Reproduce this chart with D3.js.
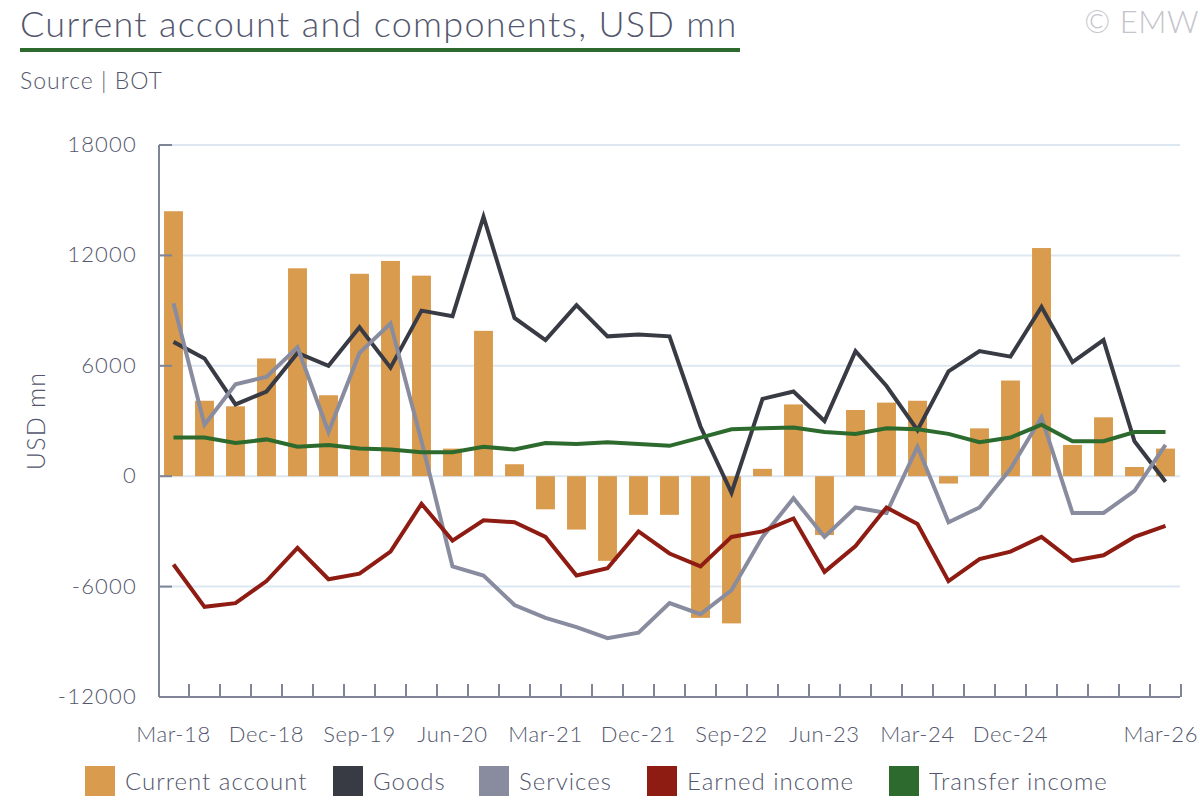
<!DOCTYPE html>
<html>
<head>
<meta charset="utf-8">
<script src="https://cdn.jsdelivr.net/npm/d3@7"></script>
<style>
    body { margin: 0; background: #fff; }
    text { font-family: Lato, "Open Sans", sans-serif; fill: #53576d; }
</style>
</head>
<body>
<div id="chart"></div>
<script>
'use strict'

////////////////////////////////////
/////////////// data ///////////////
////////////////////////////////////

const quarters = ['Mar-18','Jun-18','Sep-18','Dec-18','Mar-19','Jun-19','Sep-19','Dec-19',
    'Mar-20','Jun-20','Sep-20','Dec-20','Mar-21','Jun-21','Sep-21','Dec-21',
    'Mar-22','Jun-22','Sep-22','Dec-22','Mar-23','Jun-23','Sep-23','Dec-23',
    'Mar-24','Jun-24','Sep-24','Dec-24','Mar-25','Jun-25','Sep-25','Dec-25','Mar-26']

const tickLabels = ['Mar-18','Dec-18','Sep-19','Jun-20','Mar-21','Dec-21','Sep-22','Jun-23','Mar-24','Dec-24','Mar-26']

const yTicks = [-12000, -6000, 0, 6000, 12000, 18000]

const currentAccount = [14400, 4100, 3800, 6400, 11300, 4400, 11000, 11700, 10900, 1500, 7900, 650,
    -1800, -2900, -4600, -2100, -2100, -7700, -8000, 400, 3900, -3200, 3600, 4000,
    4100, -400, 2600, 5200, 12400, 1700, 3200, 500, 1500]

const goods = [7300, 6400, 3900, 4600, 6700, 6000, 8100, 5900, 9000, 8700, 14100, 8600,
    7400, 9300, 7600, 7700, 7600, 2700, -900, 4200, 4600, 3000, 6800, 4900,
    2500, 5700, 6800, 6500, 9200, 6200, 7400, 1900, -300]

const services = [9400, 2800, 5000, 5400, 7000, 2400, 6700, 8300, 1900, -4900, -5400, -7000,
    -7700, -8200, -8800, -8500, -6900, -7500, -6200, -3300, -1200, -3300, -1700, -2000,
    1600, -2500, -1700, 400, 3200, -2000, -2000, -800, 1700]

const earnedIncome = [-4800, -7100, -6900, -5700, -3900, -5600, -5300, -4100, -1500, -3500, -2400, -2500,
    -3300, -5400, -5000, -3000, -4200, -4900, -3300, -3000, -2300, -5200, -3800, -1700,
    -2600, -5700, -4500, -4100, -3300, -4600, -4300, -3300, -2700]

const transferIncome = [2100, 2100, 1800, 2000, 1600, 1700, 1500, 1450, 1300, 1300, 1600, 1450,
    1800, 1750, 1850, 1750, 1650, 2100, 2550, 2600, 2650, 2400, 2300, 2600,
    2550, 2300, 1850, 2100, 2800, 1900, 1900, 2400, 2400]

const lineSeries = [
    {name: 'Goods', values: goods, color: '#393b44'},
    {name: 'Services', values: services, color: '#898c9e'},
    {name: 'Earned income', values: earnedIncome, color: '#8e1c12'},
    {name: 'Transfer income', values: transferIncome, color: '#2d6a2d'}
]

////////////////////////////////////
//////////// svg setup /////////////
////////////////////////////////////

const svgWidth = 1200
const svgHeight = 800

const plot = { left: 159, right: 1180, top: 145, bottom: 697 }

const svg = d3.select('#chart').append('svg')
    .attr('width', svgWidth)
    .attr('height', svgHeight)

const barColor = '#d99b4d'
const axisColor = '#7f8597'
const gridColor = '#dde7f1'
const stroke_width = 4

////////////////////////////////////
//////////////scales////////////////
////////////////////////////////////

const xScale = d3.scaleBand()
    .domain(quarters)
    .range([158, 1181])
    .paddingInner(0.39)
    .paddingOuter(0.195)

const yScale = d3.scaleLinear()
    .domain([-12000, 18000])
    .range([plot.bottom, plot.top])

const xMid = d => xScale(d) + xScale.bandwidth() / 2

////////////////////////////////////
///////////// titles ///////////////
////////////////////////////////////

svg.append('text')
    .attr('x', 20)
    .attr('y', 37)
    .attr('font-size', 36)
    .attr('font-weight', 300)
    .attr('letter-spacing', 1.3)
    .text('Current account and components, USD mn')

svg.append('rect')
    .attr('x', 20)
    .attr('y', 48)
    .attr('width', 720)
    .attr('height', 4)
    .attr('fill', '#2d6a2d')

svg.append('text')
    .attr('x', 1199)
    .attr('y', 33)
    .attr('text-anchor', 'end')
    .attr('font-size', 31)
    .attr('font-weight', 300)
    .attr('letter-spacing', 0.5)
    .style('fill', '#c3c4cc')
    .text('© EMW')

svg.append('text')
    .attr('x', 20)
    .attr('y', 89)
    .attr('font-size', 23)
    .attr('font-weight', 300)
    .attr('letter-spacing', 1)
    .text('Source | BOT')

////////////////////////////////////
/////////////// grid ///////////////
////////////////////////////////////

svg.append('g')
    .selectAll('line')
    .data(yTicks)
    .join('line')
    .attr('x1', plot.left)
    .attr('x2', plot.right)
    .attr('y1', d => yScale(d))
    .attr('y2', d => yScale(d))
    .attr('stroke', gridColor)
    .attr('stroke-width', 2)

////////////////////////////////////
/////////////// DOM ////////////////
////////////////////////////////////

svg.append('g')
    .selectAll('rect')
    .data(quarters)
    .join('rect')
    .attr('x', d => xScale(d))
    .attr('width', xScale.bandwidth())
    .attr('y', (d, i) => yScale(Math.max(0, currentAccount[i])))
    .attr('height', (d, i) => Math.abs(yScale(currentAccount[i]) - yScale(0)))
    .attr('fill', barColor)

const line = d3.line()
    .x((d, i) => xMid(quarters[i]))
    .y(d => yScale(d))

svg.append('g')
    .selectAll('path')
    .data(lineSeries)
    .join('path')
    .attr('fill', 'none')
    .attr('stroke', d => d.color)
    .attr('stroke-width', stroke_width)
    .attr('stroke-linejoin', 'miter')
    .attr('d', d => line(d.values))

////////////////////////////////////
///////////////axis/////////////////
////////////////////////////////////

const step = xScale.step()
const boundaries = quarters.map(d => xScale(d) + xScale.bandwidth() + step * xScale.paddingInner() / 2)

const xAxis = svg.append('g')
xAxis.selectAll('line')
    .data(boundaries)
    .join('line')
    .attr('x1', d => d)
    .attr('x2', d => d)
    .attr('y1', plot.bottom)
    .attr('y2', plot.bottom - 13)
    .attr('stroke', axisColor)
    .attr('stroke-width', 2)

xAxis.append('line')
    .attr('x1', plot.left)
    .attr('x2', plot.right)
    .attr('y1', plot.bottom)
    .attr('y2', plot.bottom)
    .attr('stroke', axisColor)
    .attr('stroke-width', 2)

// last label is pulled in so it stays inside the frame
const lastLabel = tickLabels[tickLabels.length - 1]

xAxis.selectAll('text')
    .data(tickLabels)
    .join('text')
    .attr('x', d => d === lastLabel ? svgWidth - 2 : xMid(d))
    .attr('y', 742)
    .attr('text-anchor', d => d === lastLabel ? 'end' : 'middle')
    .attr('font-size', 22)
    .attr('font-weight', 300)
    .attr('letter-spacing', 0.6)
    .text(d => d)

const yAxis = svg.append('g')
yAxis.selectAll('line')
    .data(yTicks)
    .join('line')
    .attr('x1', plot.left)
    .attr('x2', plot.left + 13)
    .attr('y1', d => yScale(d))
    .attr('y2', d => yScale(d))
    .attr('stroke', axisColor)
    .attr('stroke-width', 2)

yAxis.append('line')
    .attr('x1', plot.left)
    .attr('x2', plot.left)
    .attr('y1', plot.top)
    .attr('y2', plot.bottom)
    .attr('stroke', axisColor)
    .attr('stroke-width', 2)

yAxis.selectAll('text')
    .data(yTicks)
    .join('text')
    .attr('x', 137)
    .attr('y', d => yScale(d) + 7)
    .attr('text-anchor', 'end')
    .attr('font-size', 22)
    .attr('font-weight', 300)
    .attr('letter-spacing', 1.2)
    .text(d => d)

svg.append('text')
    .attr('transform', 'translate(45,421) rotate(-90)')
    .attr('text-anchor', 'middle')
    .attr('font-size', 25)
    .attr('font-weight', 300)
    .attr('letter-spacing', 1.2)
    .text('USD mn')

////////////////////////////////////
////////////// legend //////////////
////////////////////////////////////

const legendItems = [{name: 'Current account', color: barColor}].concat(lineSeries)
const legendX = [85, 333, 479, 647, 889]

const legend = svg.append('g')
    .selectAll('g')
    .data(legendItems)
    .join('g')
    .attr('transform', (d, i) => `translate(${legendX[i]},766)`)

legend.append('rect')
    .attr('width', 30)
    .attr('height', 30)
    .attr('fill', d => d.color)

legend.append('text')
    .attr('x', 40)
    .attr('y', 24)
    .attr('font-size', 24)
    .attr('font-weight', 300)
    .attr('letter-spacing', 1)
    .text(d => d.name)
</script>
</body>
</html>
